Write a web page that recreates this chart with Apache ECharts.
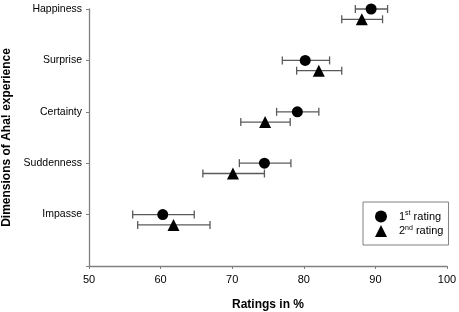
<!DOCTYPE html>
<html>
<head>
<meta charset="utf-8">
<script src="https://cdn.jsdelivr.net/npm/echarts@6/dist/echarts.min.js"></script>
<style>
  html, body { margin: 0; padding: 0; background: #fff; }
  #chart { width: 459px; height: 312px; }
</style>
</head>
<body>
<div id="chart"></div>
<script>
// dimensions, bottom to top
const categories = ['Impasse', 'Suddenness', 'Certainty', 'Surprise', 'Happiness'];

// 1st rating: mean and error bar ends (%)
const first = [60.3, 74.5, 79.1, 80.2, 89.4];
const firstLow = [56.1, 71.0, 76.2, 77.0, 87.2];
const firstHigh = [64.7, 78.2, 82.1, 83.6, 91.7];

// 2nd rating
const second = [61.8, 70.1, 74.6, 82.1, 88.1];
const secondLow = [56.8, 65.9, 71.2, 79.0, 85.3];
const secondHigh = [66.9, 74.5, 78.1, 85.3, 91.0];

const xTicks = [50, 60, 70, 80, 90, 100];

const font = 'Liberation Sans, Arial, sans-serif';
const offset2 = -0.2; // 2nd rating drawn a little below the row

const pos = (i, off) => i + 1 + off;

const pts1 = first.map((v, i) => [v, pos(i, 0)]);
const pts2 = second.map((v, i) => [v, pos(i, offset2)]);
const err1 = firstLow.map((lo, i) => [pos(i, 0), lo, firstHigh[i]]);
const err2 = secondLow.map((lo, i) => [pos(i, offset2), lo, secondHigh[i]]);

const renderErr = (params, api) => {
    const y = api.value(0);
    const a = api.coord([api.value(1), y]);
    const b = api.coord([api.value(2), y]);
    const h = 4;
    const style = { stroke: '#5a5a5a', lineWidth: 1.3 };
    return {
        type: 'group',
        children: [
            { type: 'line', shape: { x1: a[0], y1: a[1], x2: b[0], y2: b[1] }, style },
            { type: 'line', shape: { x1: a[0], y1: a[1] - h, x2: a[0], y2: a[1] + h }, style },
            { type: 'line', shape: { x1: b[0], y1: b[1] - h, x2: b[0], y2: b[1] + h }, style }
        ]
    };
};

const chart = echarts.init(document.getElementById('chart'));
chart.setOption({
    animation: false,
    grid: { left: 89, right: 12, top: 9, bottom: 46, containLabel: false, outerBoundsMode: 'none' },
    legend: {
        orient: 'vertical',
        left: 363,
        top: 202,
        padding: [8, 5, 8, 12],
        itemGap: 2,
        itemWidth: 12,
        itemHeight: 12,
        borderColor: '#808080',
        borderWidth: 1,
        borderRadius: 0,
        data: ['1st rating', '2nd rating'],
        formatter: (name) => name === '1st rating'
            ? '{n|1}{s|st}{t| rating}'
            : '{n|2}{s|nd}{t| rating}',
        textStyle: {
            padding: [0, 0, 0, 7],
            rich: {
                n: { fontFamily: font, fontSize: 11, color: '#000', lineHeight: 13 },
                s: { fontFamily: font, fontSize: 7, color: '#000', verticalAlign: 'top', lineHeight: 13, padding: [0, 0, 4, 0] },
                t: { fontFamily: font, fontSize: 11, color: '#000', lineHeight: 13 }
            }
        }
    },
    xAxis: {
        type: 'value',
        min: xTicks[0],
        max: xTicks[xTicks.length - 1],
        interval: 10,
        name: 'Ratings in %',
        nameLocation: 'middle',
        nameGap: 33,
        nameTextStyle: { fontFamily: font, fontSize: 12, fontWeight: 'bold', color: '#000' },
        axisLine: { lineStyle: { color: '#808080', width: 1.3 } },
        axisTick: { show: true, length: 3, lineStyle: { color: '#808080' } },
        axisLabel: { fontFamily: font, fontSize: 11, color: '#000', margin: 8 },
        splitLine: { show: false }
    },
    yAxis: {
        type: 'value',
        min: 0,
        max: categories.length,
        interval: 1,
        name: 'Dimensions of Aha! experience',
        nameLocation: 'middle',
        nameGap: 65,
        nameRotate: 90,
        nameTextStyle: { fontFamily: font, fontSize: 12, fontWeight: 'bold', color: '#000' },
        axisLine: { show: true, lineStyle: { color: '#808080', width: 1.3 } },
        axisTick: { show: true, length: 3, lineStyle: { color: '#808080' } },
        axisLabel: {
            fontFamily: font, fontSize: 10.5, color: '#000', margin: 7,
            formatter: (v) => (v >= 1 ? categories[v - 1] : '')
        },
        splitLine: { show: false }
    },
    series: [
        { type: 'custom', renderItem: renderErr, data: err1, encode: { x: [1, 2], y: 0 }, z: 1, silent: true },
        { type: 'custom', renderItem: renderErr, data: err2, encode: { x: [1, 2], y: 0 }, z: 1, silent: true },
        {
            name: '1st rating', type: 'scatter', data: pts1, symbol: 'circle', symbolSize: 11,
            itemStyle: { color: '#000', opacity: 1 }, z: 3
        },
        {
            name: '2nd rating', type: 'scatter', data: pts2, symbol: 'triangle', symbolSize: 12,
            itemStyle: { color: '#000', opacity: 1 }, z: 3
        }
    ]
});
</script>
</body>
</html>
